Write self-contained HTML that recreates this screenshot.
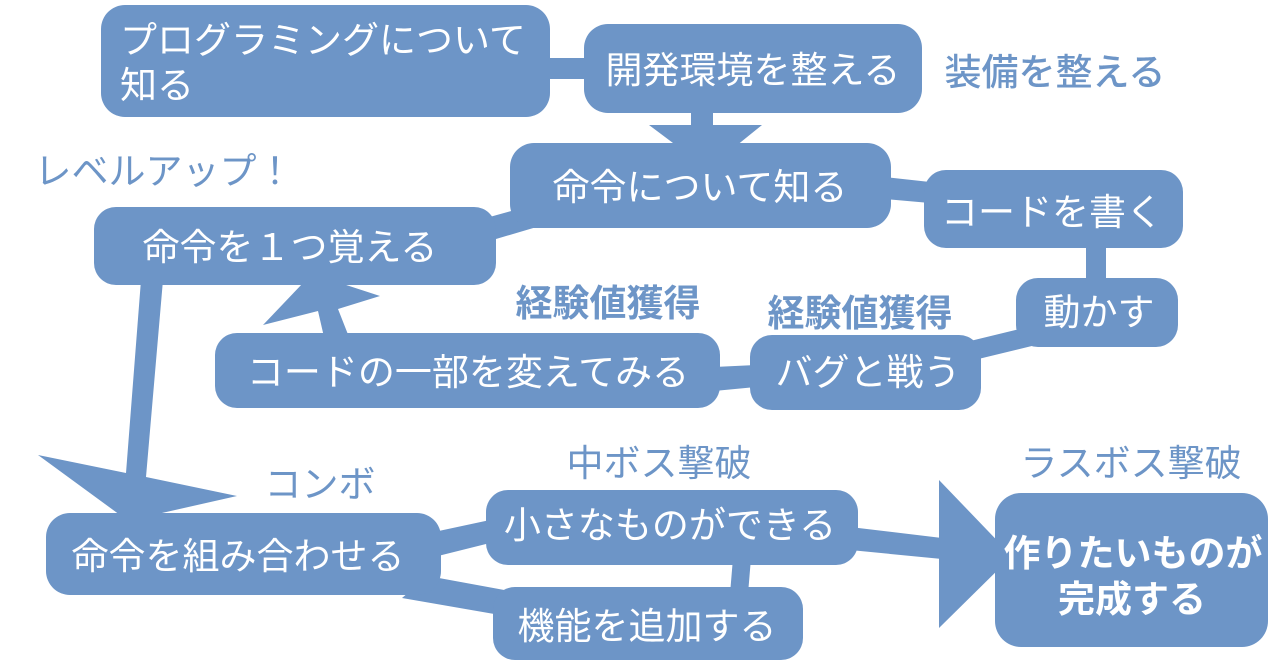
<!DOCTYPE html>
<html>
<head>
<meta charset="utf-8">
<style>
  html, body { margin: 0; padding: 0; background: #ffffff; }
  body { width: 1280px; height: 669px; overflow: hidden; }
  svg { display: block; }
  text { font-family: "Liberation Sans", "Noto Sans CJK JP", sans-serif; font-size: 37px; }
  .w { fill: #ffffff; }
  .b { fill: #6d95c7; }
</style>
</head>
<body>
<svg width="1280" height="669" viewBox="0 0 1280 669" xmlns="http://www.w3.org/2000/svg">
  <g fill="#6d95c7">
    <!-- connectors -->
    <rect x="545" y="58" width="45" height="21"/>
    <!-- B -> C arrow -->
    <polygon points="691,110 713,110 713,125 762,125 736,146 677,146 649,125 691,125"/>
    <!-- C - H -->
    <polygon points="486,218 515,210 540,226 496,239"/>
    <!-- C - D -->
    <polygon points="885,177 930,182 930,203 885,199"/>
    <!-- D - E -->
    <rect x="1086" y="244" width="20" height="40"/>
    <!-- E - F -->
    <polygon points="962,343 1036,325 1040,344 966,362"/>
    <!-- F - G -->
    <polygon points="714,367 756,365 756,387 714,391"/>
    <!-- G -> H arrow -->
    <polygon points="303,283 340,283 380,296 338,309 349,337 324,337 318,311 263,325"/>
    <!-- H -> I long arrow -->
    <polygon points="141,280 163,280 146,477 237,496 153,515 120,515 38,455 126,473"/>
    <!-- I - J -->
    <polygon points="434,532 490,520 490,543 434,557"/>
    <!-- I - K -->
    <polygon points="428,576 510,591 500,615 402,598"/>
    <!-- J - K -->
    <polygon points="733,558 751,558 748,594 730,594"/>
    <!-- J -> L arrow -->
    <polygon points="850,527 942,538 942,559 850,550"/>
    <polygon points="939,480 1012,556 939,628"/>

    <!-- boxes -->
    <rect x="101" y="5" width="449" height="112" rx="24"/>
    <rect x="584" y="24" width="338" height="89" rx="24"/>
    <rect x="510" y="143" width="381" height="85" rx="24"/>
    <rect x="924" y="170" width="259" height="78" rx="22"/>
    <rect x="1016" y="278" width="162" height="69" rx="22"/>
    <rect x="94" y="207" width="402" height="78" rx="22"/>
    <rect x="215" y="333" width="505" height="75" rx="22"/>
    <rect x="750" y="335" width="231" height="75" rx="22"/>
    <rect x="46" y="513" width="395" height="82" rx="24"/>
    <rect x="486" y="490" width="372" height="75" rx="22"/>
    <rect x="493" y="587" width="310" height="73" rx="22"/>
    <rect x="995" y="493" width="273" height="154" rx="26"/>
  </g>

  <!-- box text -->
  <text class="w" x="120" y="53">プログラミングについて</text>
  <text class="w" x="120" y="98">知る</text>
  <text class="w" x="753" y="83" text-anchor="middle">開発環境を整える</text>
  <text class="w" x="700" y="200" text-anchor="middle">命令について知る</text>
  <text class="w" x="1052" y="225" text-anchor="middle">コードを書く</text>
  <text class="w" x="1099" y="325" text-anchor="middle">動かす</text>
  <text class="w" x="290" y="260" text-anchor="middle">命令を１つ覚える</text>
  <text class="w" x="468" y="385" text-anchor="middle">コードの一部を変えてみる</text>
  <text class="w" x="868" y="385" text-anchor="middle">バグと戦う</text>
  <text class="w" x="238" y="569" text-anchor="middle">命令を組み合わせる</text>
  <text class="w" x="670" y="538" text-anchor="middle">小さなものができる</text>
  <text class="w" x="647" y="639" text-anchor="middle">機能を追加する</text>
  <text class="w" x="1133" y="566" text-anchor="middle" font-weight="bold" font-size="36">作りたいものが</text>
  <text class="w" x="1132" y="612" text-anchor="middle" font-weight="bold" font-size="36">完成する</text>

  <!-- labels -->
  <text class="b" x="1055" y="85" text-anchor="middle" font-weight="500">装備を整える</text>
  <text class="b" x="164" y="184" text-anchor="middle">レベルアップ！</text>
  <text class="b" x="608" y="316" text-anchor="middle" font-weight="bold">経験値獲得</text>
  <text class="b" x="860" y="326" text-anchor="middle" font-weight="bold">経験値獲得</text>
  <text class="b" x="320" y="497" text-anchor="middle">コンボ</text>
  <text class="b" x="659" y="476" text-anchor="middle">中ボス撃破</text>
  <text class="b" x="1131" y="476" text-anchor="middle">ラスボス撃破</text>
</svg>
</body>
</html>
